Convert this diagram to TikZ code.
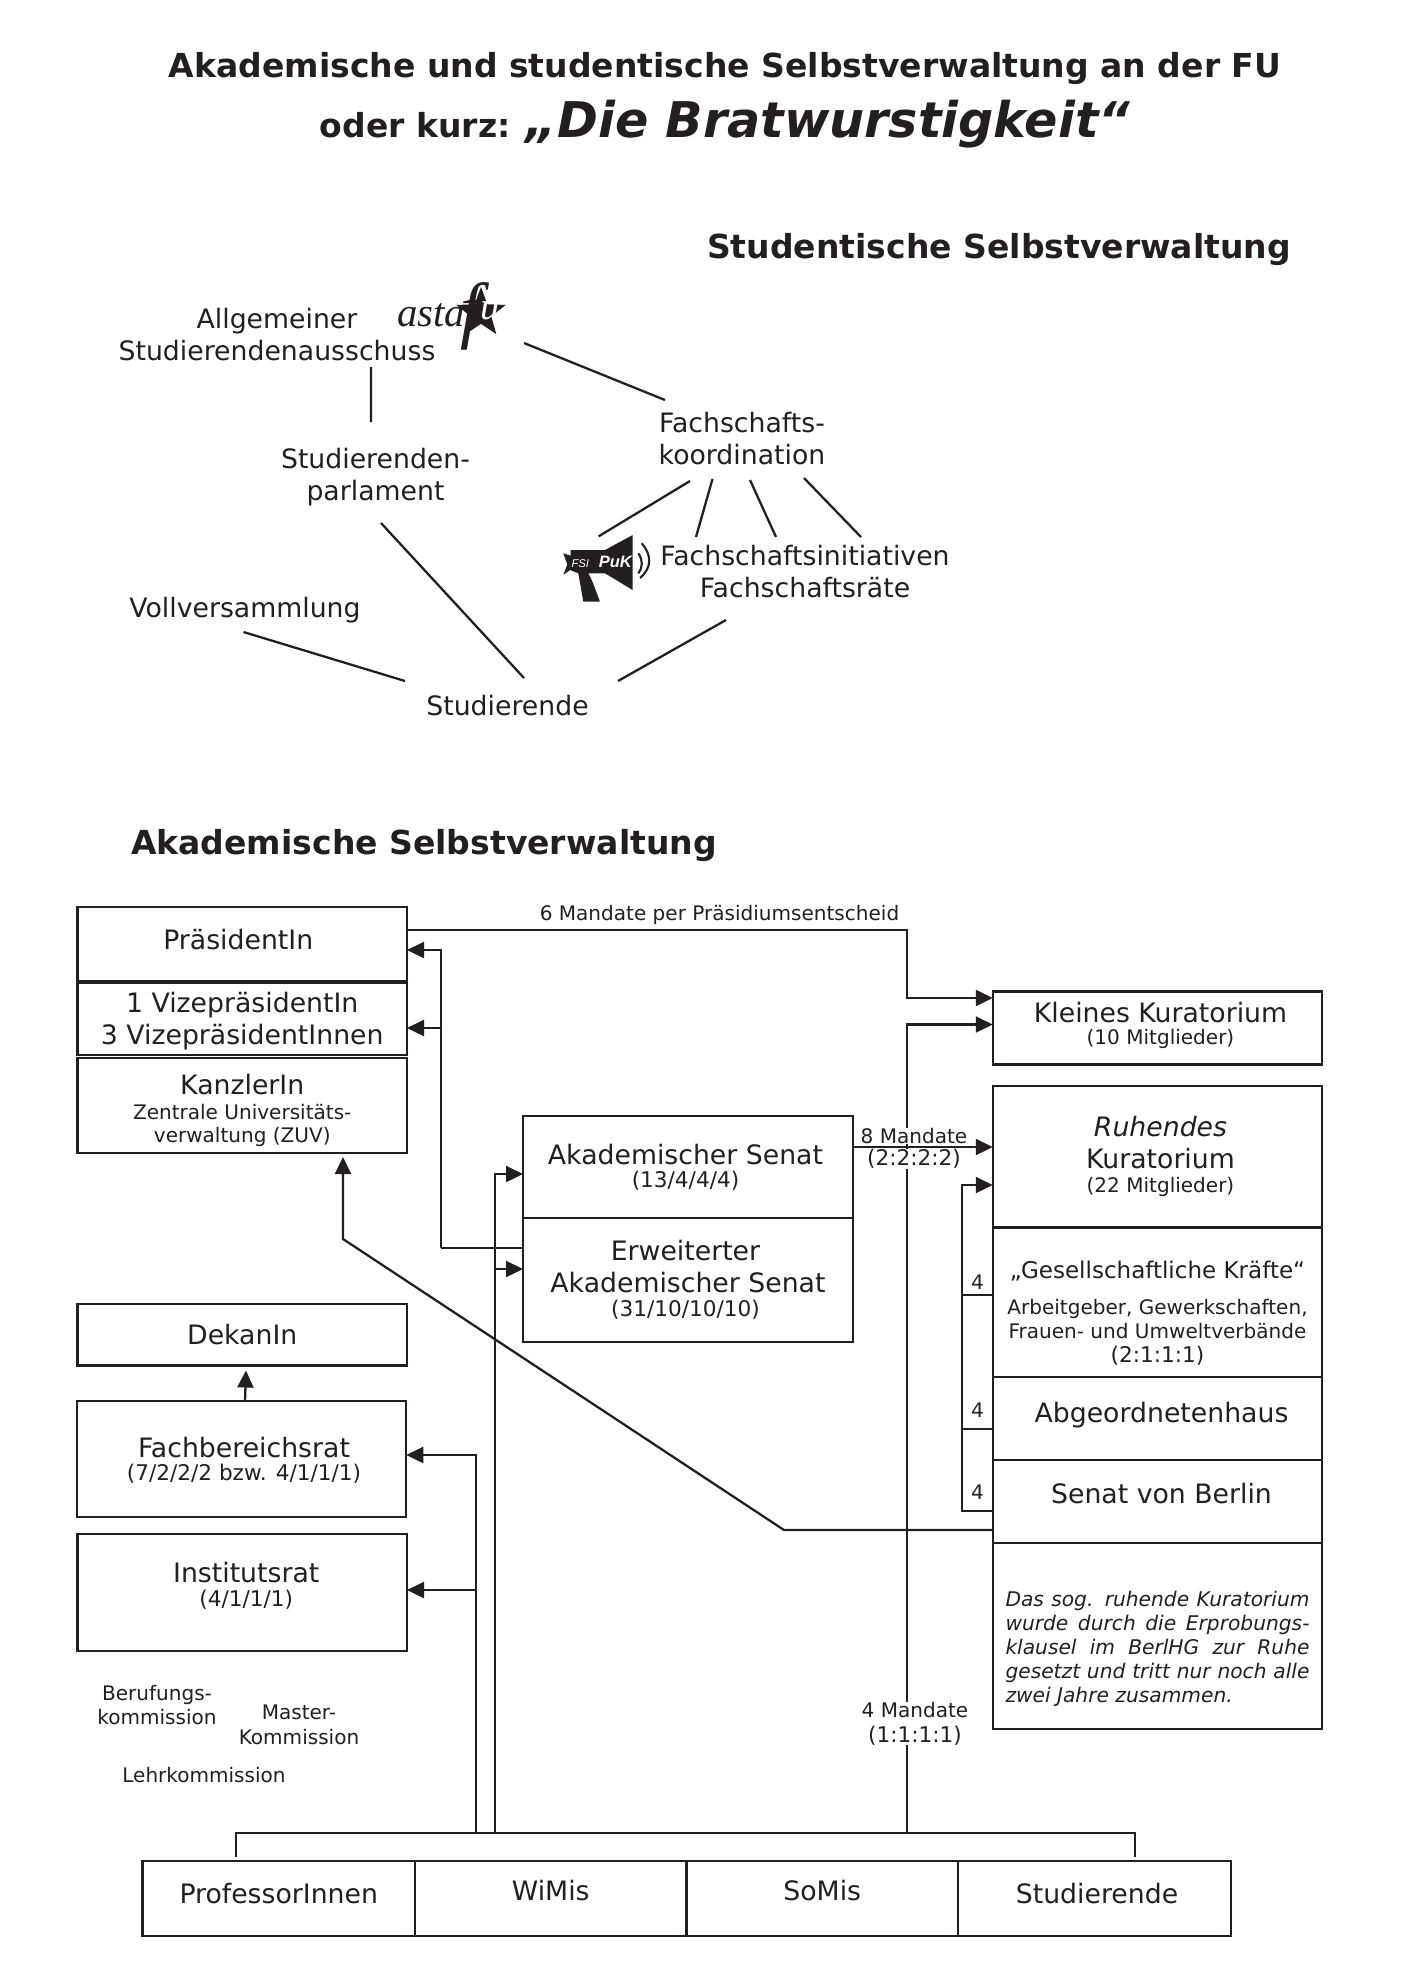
\documentclass[tikz,border=0pt]{standalone}
\usepackage{fontspec}
\usepackage{xcolor}
\usepackage{tikz}
\usetikzlibrary{arrows.meta, shapes.geometric}
\setmainfont{DejaVu Sans}
\newfontfamily\logofont{Liberation Serif}
\newfontfamily\puklogofont{Liberation Sans}
\definecolor{ink}{HTML}{231F20}

\newcommand{\gross}{\fontsize{7.6}{9.1}\selectfont}
\newcommand{\mittel}{\fontsize{5.7}{7}\selectfont}
\newcommand{\ziffern}{\fontsize{6.15}{7}\selectfont}

\tikzset{
  box/.style={rectangle, draw=ink, fill=white, line width=0.65pt, inner sep=0pt, outer sep=0pt,
    align=center, text=ink, font=\gross},
  spalte/.style={box, minimum width=3.295cm},
  kuratorium/.style={box, minimum width=3.295cm},
  gruppe/.style={box, minimum height=0.75cm},
  txt/.style={align=center, inner sep=0pt, text=ink, font=\gross},
  kommission/.style={txt, font=\mittel},
  mandat/.style={txt, font=\mittel, fill=white},
  titel/.style={inner sep=0pt, text=ink, font=\fontsize{9.4}{10}\selectfont\bfseries},
  strich/.style={draw=ink, line width=0.65pt},
  pfeil/.style={strich, -{Triangle[length=0.17cm, width=0.16cm]}}
}

\begin{document}
\begin{tikzpicture}
  \useasboundingbox (0,0) rectangle (14.04,-19.85);

  % Ueberschriften
  \node[titel] (titeleins) at (7.25,-0.69) {Akademische und studentische Selbstverwaltung an der FU};
  \node[titel] (titelzwei) at (7.25,-1.24) {oder kurz: {\fontsize{14}{15}\selectfont\itshape „Die Bratwurstigkeit“}};
  \node[titel] (titelstudentisch) at (9.99,-2.50) {Studentische Selbstverwaltung};
  \node[titel] (titelakademisch) at (4.24,-8.45) {Akademische Selbstverwaltung};

  % Studentische Selbstverwaltung
  \node[txt] (ausschuss) at (2.77,-3.345) {Allgemeiner\\Studierendenausschuss};
  \node[txt] (parlament) at (3.755,-4.77) {Studierenden-\\parlament};
  \node[txt] (fachkoord) at (7.42,-4.39) {Fachschafts-\\koordination};
  \node[txt] (initiativen) at (8.05,-5.72) {Fachschaftsinitiativen\\Fachschaftsräte};
  \node[txt] (vollvers) at (2.45,-6.105) {Vollversammlung};
  \node[txt] (studierende) at (5.075,-7.06) {Studierende};

  % Logos
  \node[star, star points=5, star point ratio=2.4, fill=ink, minimum size=0.52cm, inner sep=0pt] (aststern) at (4.81,-3.13) {};
  \node[inner sep=0pt, text=ink, font=\logofont\itshape\fontsize{11.6}{12}\selectfont] (astatext) at (4.31,-3.15) {asta};
  \node[inner sep=0pt, text=ink, font=\logofont\itshape\fontsize{21}{22}\selectfont] (fulogo) at (4.80,-3.165)
    {f\raisebox{4.3pt}{\textcolor{white}{\fontsize{11}{11}\selectfont u}}};

  \fill[ink] (5.633,-5.533) -- (5.707,-5.557) -- (5.707,-5.50) -- (6.05,-5.50) -- (6.327,-5.35) -- (6.327,-5.90)
    -- (6.05,-5.733) -- (5.883,-5.733) -- (5.917,-5.80) -- (5.93,-5.83) -- (6.00,-6.017) -- (5.833,-6.017)
    -- (5.783,-5.733) -- (5.70,-5.70) -- (5.633,-5.75) -- (5.673,-5.643) -- cycle;
  \draw[ink, line width=0.6pt] (6.383,-5.533) .. controls (6.43,-5.60) and (6.43,-5.67) .. (6.383,-5.733);
  \draw[ink, line width=0.6pt] (6.417,-5.433) .. controls (6.52,-5.55) and (6.52,-5.68) .. (6.40,-5.78);
  \node[inner sep=0pt, text=white, font=\puklogofont\itshape] (fsipuk) at (6.017,-5.623)
    {{\fontsize{3.2}{4}\selectfont FSI} {\fontsize{4.7}{5}\selectfont\bfseries PuK}};

  \draw[strich] ([shift={(0.94,-0.325)}]ausschuss.center) -- ([shift={(-0.045,0.55)}]parlament.center);
  \draw[strich] ([shift={(0.43,-0.30)}]aststern.center) -- ([shift={(-0.77,0.39)}]fachkoord.center);
  \draw[strich] ([shift={(-0.52,-0.42)}]fachkoord.center) -- ([shift={(-0.03,0.26)}]fsipuk.center);
  \draw[strich] ([shift={(-0.295,-0.40)}]fachkoord.center) -- ([shift={(-1.09,0.35)}]initiativen.center);
  \draw[strich] ([shift={(0.08,-0.41)}]fachkoord.center) -- ([shift={(-0.29,0.35)}]initiativen.center);
  \draw[strich] ([shift={(0.62,-0.39)}]fachkoord.center) -- ([shift={(0.56,0.35)}]initiativen.center);
  \draw[strich] ([shift={(0.055,-0.46)}]parlament.center) -- ([shift={(0.165,0.28)}]studierende.center);
  \draw[strich] ([shift={(-0.015,-0.215)}]vollvers.center) -- ([shift={(-1.025,0.25)}]studierende.center);
  \draw[strich] ([shift={(-0.79,-0.48)}]initiativen.center) -- ([shift={(1.105,0.25)}]studierende.center);

  % Akademische Selbstverwaltung
  \node[spalte, minimum height=0.74cm, text depth=0.10cm] (praesident) at (2.4225,-9.44) {PräsidentIn\hspace{0.08cm}};
  \node[spalte, minimum height=0.725cm, text height=0.57cm] (vize) at (2.4225,-10.1875) {1 VizepräsidentIn\\3 VizepräsidentInnen};
  \node[spalte, minimum height=0.95cm, text height=0.78cm] (kanzler) at (2.4225,-11.055) {KanzlerIn\\[-2.1pt]{\mittel Zentrale Universitäts-}\\[-2.5pt]{\mittel verwaltung (ZUV)}};
  \node[spalte, minimum height=0.615cm] (dekan) at (2.4225,-13.3475) {DekanIn};
  \node[spalte, minimum height=1.16cm, text height=0.46cm] (fachrat) at (2.415,-14.59) {\hspace*{0.05cm}Fachbereichsrat\\[-2.5pt]\hspace*{0.05cm}{\ziffern (7/2/2/2 bzw. 4/1/1/1)}};
  \node[spalte, minimum height=1.17cm, text depth=0.16cm] (institut) at (2.4225,-15.925) {\hspace*{0.08cm}Institutsrat\\[-2.2pt]\hspace*{0.08cm}{\ziffern (4/1/1/1)}};
  \node[box, minimum width=3.30cm, minimum height=1.02cm] (senat) at (6.88,-11.67) {Akademischer Senat\hspace*{0.05cm}\\[-2.5pt]{\ziffern (13/4/4/4)}\hspace*{0.05cm}};
  \node[box, minimum width=3.30cm, minimum height=1.24cm] (erweitert) at (6.88,-12.80) {Erweiterter\hspace*{0.05cm}\\Akademischer Senat\hspace*{0.05cm}\\[-2.2pt]{\ziffern (31/10/10/10)}\hspace*{0.05cm}};

  \node[kuratorium, minimum height=0.73cm, text depth=0.10cm] (kleines) at (11.575,-10.28) {\hspace*{0.06cm}Kleines Kuratorium\\[-2.8pt]\hspace*{0.06cm}{\mittel (10 Mitglieder)}};
  \node[kuratorium, minimum height=1.415cm] (ruhendes) at (11.575,-11.5675) {\hspace*{0.06cm}\textit{Ruhendes}\\\hspace*{0.06cm}Kuratorium\\[-2.2pt]\hspace*{0.06cm}{\mittel (22 Mitglieder)}};
  \node[kuratorium, minimum height=1.495cm, text height=1.24cm] (gesellschaft) at (11.575,-13.0225)
    {{\fontsize{6.55}{8}\selectfont „Gesellschaftliche Kräfte“}\\[1pt]{\mittel Arbeitgeber, Gewerkschaften,}\\[-2.2pt]{\mittel Frauen- und Umweltverbände}\\[-2.2pt]{\ziffern (2:1:1:1)}};
  \node[kuratorium, minimum height=0.83cm, text depth=0.13cm] (abgeordnete) at (11.575,-14.185) {\hspace*{0.08cm}Abgeordnetenhaus};
  \node[kuratorium, minimum height=0.83cm, text depth=0.17cm] (senatberlin) at (11.575,-15.015) {\hspace*{0.08cm}Senat von Berlin};
  \node[kuratorium, minimum height=1.86cm, text height=0.90cm] (hinweis) at (11.575,-16.36)
    {\parbox{3.04cm}{\fontsize{5.75}{6.83}\selectfont\itshape\hbadness=10000
      Das sog. ruhende Kuratorium\linebreak wurde durch die Erprobungs-\linebreak klausel im BerlHG zur Ruhe\linebreak gesetzt und tritt nur noch alle\linebreak zwei Jahre zusammen.}};

  \node[gruppe, minimum width=2.725cm, text depth=0.10cm] (professoren) at (2.7875,-18.985) {ProfessorInnen};
  \node[gruppe, minimum width=2.715cm, text depth=0.16cm] (wimis) at (5.5075,-18.985) {WiMis};
  \node[gruppe, minimum width=2.715cm, text depth=0.16cm] (somis) at (8.2225,-18.985) {SoMis};
  \node[gruppe, minimum width=2.73cm, text depth=0.10cm] (gruppestud) at (10.945,-18.985) {\hspace*{0.05cm}Studierende};

  \node[kommission] (berufung) at (1.57,-17.05) {Berufungs-\\kommission};
  \node[kommission] (master) at (2.99,-17.25) {Master-\\Kommission};
  \node[kommission] (lehre) at (2.04,-17.75) {Lehrkommission};

  % Knickpunkte
  \coordinate (busmand) at (9.07,-18.33);
  \coordinate (busrat) at (4.76,-18.33);
  \coordinate (bussenat) at (4.95,-18.33);
  \coordinate (gremienbus) at (4.41,-12.48);
  \coordinate (dropl) at ([shift={(-0.4275,0.04)}]professoren.north);
  \coordinate (dropr) at ([shift={(0.405,0.04)}]gruppestud.north);
  \coordinate (kkoben) at ([yshift=0.30cm]kleines.west);
  \coordinate (kkunten) at ([yshift=0.035cm]kleines.west);
  \coordinate (knickdiag) at (7.84,-15.30);
  \coordinate (knickkanzler) at (3.43,-12.39);
  \coordinate (viererlinie) at (9.62,-13.00);

  \draw[strich] (dropl) |- (busmand) -| (dropr);
  \draw[pfeil] (busmand) -- (busmand |- kkunten) -- (kkunten);
  \draw[pfeil] ([yshift=0.14cm]praesident.east) -| (kkoben -| busmand) -- (kkoben);

  \draw[pfeil] (busrat) |- ([yshift=0.04cm]fachrat.east);
  \draw[pfeil] (busrat) |- ([yshift=0.025cm]institut.east);
  \draw[pfeil] (bussenat) |- ([yshift=-0.07cm]senat.west);
  \draw[pfeil] (bussenat) |- ([yshift=0.11cm]erweitert.west);
  \draw[pfeil] ([xshift=0.035cm]fachrat.north) -- ([shift={(0.0375,-0.05)}]dekan.south);

  \draw[strich] (erweitert.west |- gremienbus) -- (gremienbus);
  \draw[pfeil] (gremienbus) |- ([yshift=-0.06cm]praesident.east);
  \draw[pfeil] (gremienbus) |- ([yshift=-0.0925cm]vize.east);

  \draw[pfeil] ([yshift=-0.285cm]senatberlin.west) -- (knickdiag) -- (knickkanzler) -- ([shift={(1.0075,-0.04)}]kanzler.south);

  \draw[strich] ([yshift=-0.095cm]senatberlin.west) -| (viererlinie);
  \draw[pfeil] (viererlinie) |- ([yshift=-0.2825cm]ruhendes.west);
  \draw[strich] ([yshift=0.0725cm]gesellschaft.west) -| (viererlinie);
  \draw[strich] ([yshift=-0.105cm]abgeordnete.west) -| (viererlinie);

  \node[txt, font=\mittel] (vierges) at (9.775,-12.82) {4};
  \node[txt, font=\mittel] (vierabg) at (9.775,-14.10) {4};
  \node[txt, font=\mittel] (viersen) at (9.775,-14.92) {4};

  \node[txt, font=\mittel] (sechsmandate) at (7.195,-9.15) {6 Mandate per Präsidiumsentscheid};
  \node[mandat] (achtmandate) at (9.14,-11.36) {8 Mandate};
  \node[mandat, font=\ziffern] (achtschluessel) at (9.14,-11.59) {(2:2:2:2)};
  \node[mandat] (viermandate) at (9.15,-17.235) {4 Mandate\\{\ziffern (1:1:1:1)}};
  \draw[pfeil] ([yshift=0.20cm]senat.east) -- ([yshift=0.0975cm]ruhendes.west);
\end{tikzpicture}
\end{document}
